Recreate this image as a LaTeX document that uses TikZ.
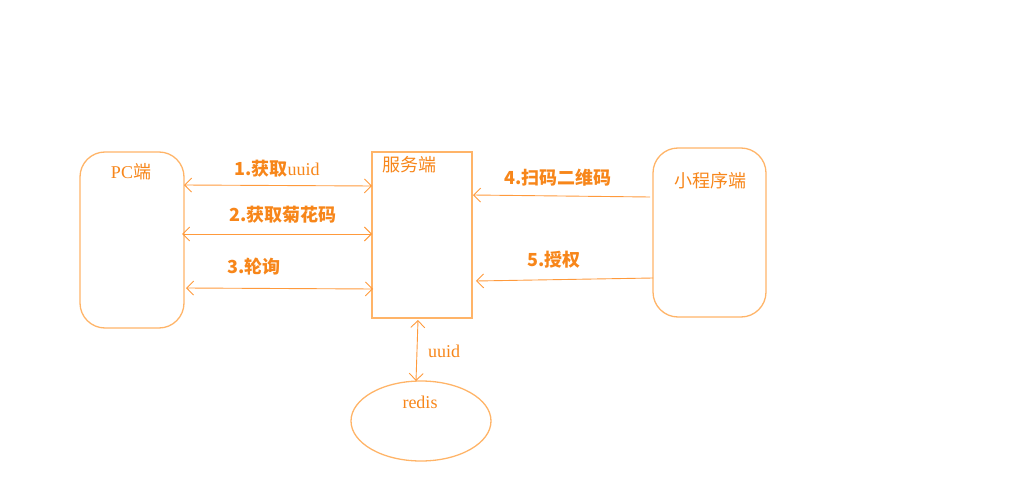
\documentclass[tikz,border=0pt]{standalone}
\usepackage{fontspec}
\setmainfont{Liberation Serif}
\newfontfamily\cjk{Noto Sans CJK SC}
\usetikzlibrary{arrows.meta}
\definecolor{lineor}{HTML}{FFB468}
\definecolor{arrowor}{HTML}{FF9A3C}
\definecolor{textor}{HTML}{F7861A}
\tikzset{
  boxline/.style={draw=lineor, line width=1.3pt},
  conn/.style={draw=arrowor, line width=0.9pt},
  lbl/.style={text=textor, font=\fontsize{18}{21}\selectfont\cjk\bfseries, inner sep=0pt},
  nm/.style={text=textor, font=\fontsize{18}{21}\selectfont, inner sep=0pt}
}
\begin{document}
\begin{tikzpicture}[x=1pt,y=-1pt]
\useasboundingbox (0,0) rectangle (1012,492);
% boxes
\draw[boxline, rounded corners=25pt] (80,152) rectangle (184,328);
\node[nm] (pc) at (131,172) {PC{\cjk 端}};
\draw[boxline] (372,152) rectangle (472,318);
\node[nm, anchor=west] (srv) at (382,165) {\cjk 服务端};
\draw[boxline, rounded corners=25pt] (653,148) rectangle (766,317);
\node[nm] (mp) at (710,181) {\cjk 小程序端};
\draw[boxline] (421,421) ellipse (70 and 40);
\node[nm] (redis) at (420,402) {redis};
% connectors
\coordinate (a1) at (184,185); \coordinate (b1) at (372,186);
\coordinate (a2) at (182,234); \coordinate (b2) at (372,234);
\coordinate (a3) at (186,288); \coordinate (b3) at (373,289);
\coordinate (a4) at (650,197); \coordinate (b4) at (473,195);
\coordinate (a5) at (653,278); \coordinate (b5) at (476,281);
\coordinate (a6) at (418,320); \coordinate (b6) at (416,381);
\draw[conn, {Straight Barb[length=7pt,width=14pt]}-{Straight Barb[length=7pt,width=14pt]}] (a1) -- (b1);
\draw[conn, {Straight Barb[length=7pt,width=14pt]}-{Straight Barb[length=7pt,width=14pt]}] (a2) -- (b2);
\draw[conn, {Straight Barb[length=7pt,width=14pt]}-{Straight Barb[length=7pt,width=14pt]}] (a3) -- (b3);
\draw[conn, -{Straight Barb[length=7pt,width=14pt]}] (a4) -- (b4);
\draw[conn, -{Straight Barb[length=7pt,width=14pt]}] (a5) -- (b5);
\draw[conn, {Straight Barb[length=7pt,width=14pt]}-{Straight Barb[length=7pt,width=14pt]}] (a6) -- (b6);
% labels
\node[lbl] (l1) at (277,169) {1.获取{\normalfont\mdseries uuid}};
\node[lbl] (l2) at (283,215) {2.获取菊花码};
\node[lbl] (l3) at (254,267) {3.轮询};
\node[lbl] (l4) at (558,178) {4.扫码二维码};
\node[lbl] (l5) at (554,260) {5.授权};
\node[nm] (l6) at (444,351) {uuid};
\end{tikzpicture}
\end{document}
